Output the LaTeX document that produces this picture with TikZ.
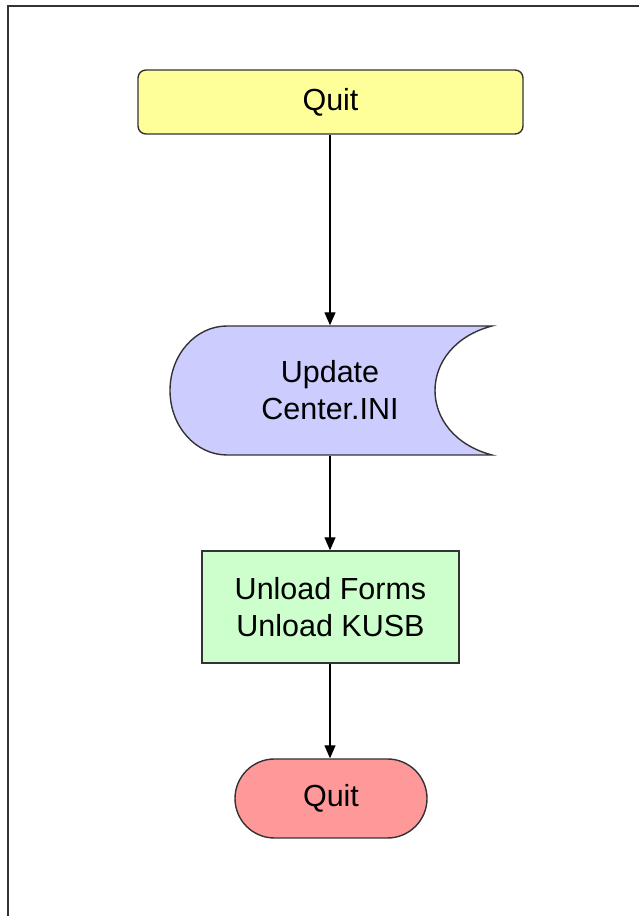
\documentclass[tikz,border=0pt]{standalone}
\usepackage{fontspec}
\setmainfont{Liberation Sans}
\usetikzlibrary{arrows.meta}
\definecolor{qyellow}{HTML}{FFFF99}
\definecolor{qblue}{HTML}{CCCCFF}
\definecolor{qgreen}{HTML}{CCFFCC}
\definecolor{qred}{HTML}{FF9999}
\definecolor{edge}{HTML}{333333}
\tikzset{
  box/.style={draw=edge, line width=1.4pt, align=center, inner sep=0pt,
    font=\fontsize{30.5}{37}\selectfont, text=black},
  conn/.style={draw=black, line width=1.4pt, -{Triangle[length=13pt,width=11pt]}},
}
\begin{document}
\begin{tikzpicture}[x=1pt,y=1pt]
\useasboundingbox (0,0) rectangle (639,916);
\draw[edge, line width=1.5pt] (8,-5) -- (8,910) -- (645,910);
\node[box, fill=qyellow, rounded corners=8pt, minimum width=385pt, minimum height=64pt] (start) at (330.5,814) {Quit};
\fill[qblue, draw=edge, line width=1.4pt]
  (227,590) -- (492,590) .. controls (416,570) and (416,481) .. (492,461)
  -- (227,461) arc[start angle=270, end angle=90, x radius=57, y radius=64.5] -- cycle;
\node[box, draw=none, minimum width=265pt, minimum height=129pt] (upd) at (330,525.5) {Update\\Center.INI};
\node[box, fill=qgreen, minimum width=257pt, minimum height=112pt] (unl) at (330.5,309) {Unload Forms\\Unload KUSB};
\node[box, fill=qred, rounded corners=39.5pt, minimum width=192pt, minimum height=79pt] (end) at (331,117.5) {Quit};
\draw[conn] (start.south -| upd.north) -- (upd.north);
\draw[conn] (upd.south) -- (upd.south |- unl.north);
\draw[conn] (upd.south |- unl.south) -- (upd.south |- end.north);
\end{tikzpicture}
\end{document}
